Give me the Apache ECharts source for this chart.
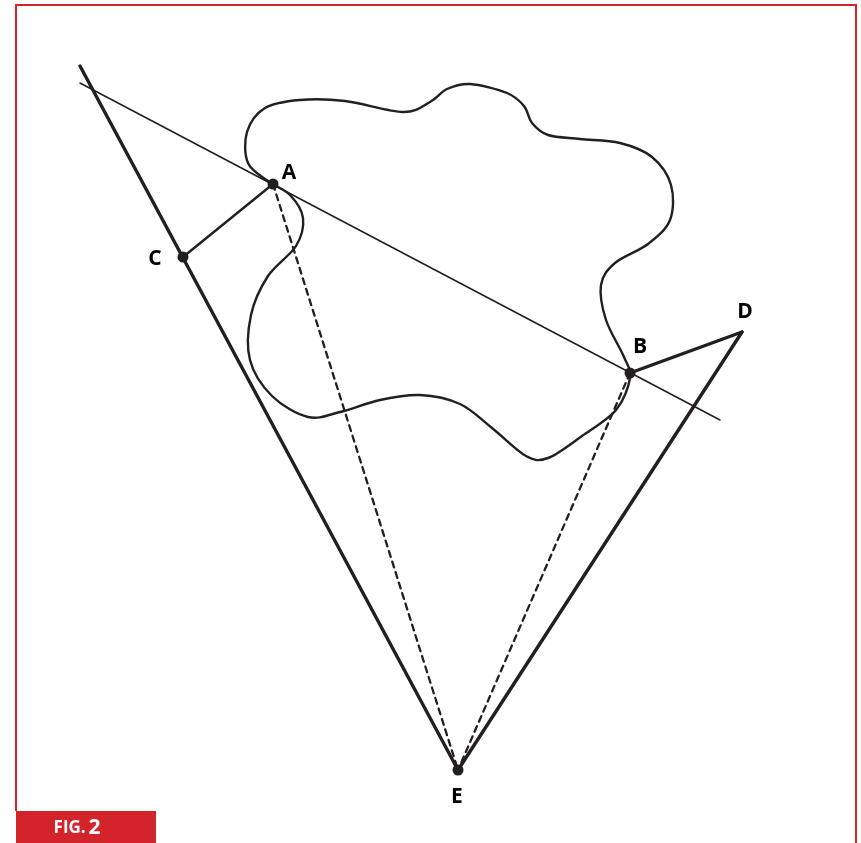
<!DOCTYPE html>
<html>
<head>
<meta charset="utf-8">
<style>html,body{margin:0;padding:0;background:#fff;}#c{width:861px;height:843px;}</style>
<script src="https://cdn.jsdelivr.net/npm/echarts@6/dist/echarts.min.js"></script>
</head>
<body>
<div id="c"></div>
<script>
// Geometry points (figure units)
const ptA = [273, 184];
const ptB = [630, 373];
const ptC = [183, 257];
const ptD = [742, 332];
const ptE = [458, 770];
const thickLineStart = [80, 66];
const chordStart = [80, 83];
const chordEnd = [720, 420];
const pointNames = ['A', 'B', 'C', 'D', 'E'];
const labelAnchors = [[289, 173], [640, 347], [155, 259], [745, 312], [457, 797]];
const blobOutline = [
  [470, 84], [507, 93], [524, 106], [532, 123], [548, 135], [580, 139],
  [620, 143], [652, 157], [671, 185], [670, 220], [648, 244], [615, 263],
  [601, 285], [606, 320], [624, 357], [630, 378], [616, 410], [582, 436],
  [548, 458], [526, 456], [492, 428], [460, 404], [420, 395], [380, 400], [340, 412],
  [308, 417], [272, 396], [250, 360], [251, 315], [268, 276], [296, 246], [303, 218],
  [290, 195], [268, 181], [248, 163], [247, 132], [265, 108], [300, 100], [345, 101],
  [403, 112], [430, 102], [447, 89]
];
const figLabel = 'FIG.';
const figNumber = '2';

const ink = '#231f20';
const red = '#d3242c';
const chart = echarts.init(document.getElementById('c'), null, {renderer: 'canvas'});

function seg(name, pts, width, type) {
  return {
    name: name, type: 'line', data: pts, symbol: 'none', silent: true,
    lineStyle: {color: ink, width: width, type: type || 'solid', cap: 'round'},
    animation: false, z: 3
  };
}

// closed Catmull-Rom curve through the pixel-converted outline points
function blobRender(params, api) {
  if (params.dataIndex !== 0) return null;
  const pts = blobOutline.map(p => api.coord(p));
  const n = pts.length;
  let d = 'M' + pts[0][0] + ' ' + pts[0][1];
  for (let i = 0; i < n; i++) {
    const p0 = pts[(i - 1 + n) % n], p1 = pts[i], p2 = pts[(i + 1) % n], p3 = pts[(i + 2) % n];
    const t = 1 / 6;
    const c1 = [p1[0] + (p2[0] - p0[0]) * t, p1[1] + (p2[1] - p0[1]) * t];
    const c2 = [p2[0] - (p3[0] - p1[0]) * t, p2[1] - (p3[1] - p1[1]) * t];
    d += ' C' + c1[0] + ' ' + c1[1] + ' ' + c2[0] + ' ' + c2[1] + ' ' + p2[0] + ' ' + p2[1];
  }
  d += ' Z';
  return {
    type: 'path',
    shape: {pathData: d},
    style: {stroke: ink, lineWidth: 2.4, fill: null}
  };
}

chart.setOption({
  animation: false,
  grid: {left: 0, right: 0, top: 0, bottom: 0},
  xAxis: {type: 'value', min: 0, max: 861, show: false},
  yAxis: {type: 'value', min: 0, max: 843, inverse: true, show: false},
  graphic: [
    {type: 'polyline', shape: {points: [[16, 811], [16, 5], [856, 5], [856, 843]]},
     style: {stroke: red, lineWidth: 2, fill: null}, z: 1},
    {type: 'rect', shape: {x: 16, y: 811, width: 140, height: 32}, style: {fill: red}, z: 1},
    {type: 'text', x: 77, y: 828, z: 2,
     style: {
       text: '{a|' + figLabel + '}{s| }{b|' + figNumber + '}',
       rich: {
         a: {fill: '#fff', fontSize: 17, fontWeight: 'bold', fontFamily: 'Open Sans'},
         s: {fill: '#fff', fontSize: 10},
         b: {fill: '#fff', fontSize: 21, fontWeight: 'bold', fontFamily: 'Open Sans'}
       },
       align: 'center', verticalAlign: 'middle'
     }}
  ],
  series: [
    {
      name: 'blob', type: 'custom', data: blobOutline, renderItem: blobRender, silent: true, z: 2
    },
    seg('chord', [chordStart, chordEnd], 1.6),
    seg('left', [thickLineStart, ptE], 3.4),
    seg('right', [ptE, ptD], 3.4),
    seg('BD', [ptB, ptD], 3.4),
    seg('AC', [ptA, ptC], 2.4),
    seg('AE', [ptA, ptE], 2.3, [6, 5]),
    seg('BE', [ptB, ptE], 2.3, [6, 5]),
    {
      name: 'dots', type: 'scatter', data: [ptA, ptB, ptC, ptE], symbol: 'circle', symbolSize: 11,
      itemStyle: {color: ink, opacity: 1}, silent: true, z: 5
    },
    {
      name: 'labels', type: 'scatter', symbolSize: 0, silent: true, z: 6,
      data: labelAnchors.map((p, i) => ({value: p, name: pointNames[i]})),
      label: {
        show: true, position: 'inside', formatter: '{b}', color: '#000', opacity: 1,
        fontSize: 21, fontWeight: 'bold', fontFamily: 'Open Sans'
      }
    }
  ]
});
</script>
</body>
</html>
